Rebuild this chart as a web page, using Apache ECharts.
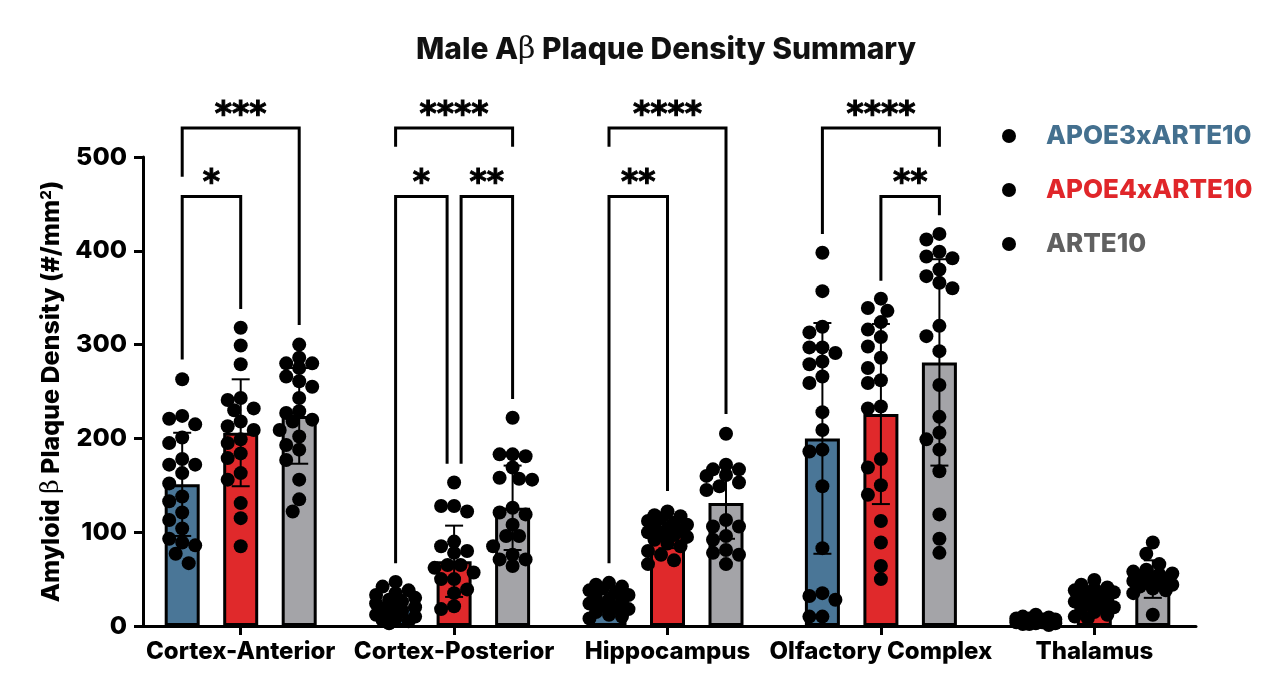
<!DOCTYPE html>
<html><head><meta charset="utf-8">
<script src="https://cdn.jsdelivr.net/npm/echarts@6/dist/echarts.min.js"></script>
<style>html,body{margin:0;padding:0;background:#fff}#c{width:1280px;height:696px}</style>
</head><body><div id="c"></div>
<script>
// ---------------- data ----------------
const categories = ['Cortex-Anterior', 'Cortex-Posterior', 'Hippocampus', 'Olfactory Complex', 'Thalamus'];
const groupNames = ['APOE3xARTE10', 'APOE4xARTE10', 'ARTE10'];
const meanAPOE3 = [151, 21, 26, 200, 5];
const meanAPOE4 = [206, 69, 99, 226, 30];
const meanARTE10 = [224, 126, 131, 281, 50];
const sdAPOE3 = [55, 12, 10, 123, 3];
const sdAPOE4 = [57, 38, 16, 96, 11];
const sdARTE10 = [51, 45, 38, 110, 20];
const dotsAPOE3 = [
  [263, 224, 221, 215, 201, 195, 178, 172, 172, 163, 152, 138, 133, 121, 113, 104, 93, 89, 86, 77, 67],
  [47, 42, 38, 35, 33, 30, 28, 26, 24, 22, 20, 18, 16, 14, 12, 10, 8, 6, 5, 3],
  [46, 44, 42, 40, 38, 36, 33, 30, 28, 26, 24, 22, 20, 18, 15, 12, 10, 8],
  [398, 357, 319, 313, 297, 291, 297, 279, 282, 266, 259, 228, 209, 188, 186, 149, 83, 32, 35, 28, 10, 10],
  [12, 10, 9, 8, 8, 7, 7, 6, 6, 5, 5, 4, 4, 3, 3, 2, 2, 1]
];
const dotsAPOE4 = [
  [318, 299, 279, 243, 241, 232, 230, 218, 213, 209, 199, 195, 184, 179, 163, 156, 131, 115, 85],
  [153, 128, 128, 122, 90, 85, 80, 78, 65, 65, 62, 57, 50, 50, 39, 35, 21, 18],
  [122, 118, 117, 115, 112, 110, 108, 106, 104, 102, 100, 98, 97, 95, 92, 88, 85, 80, 76, 70, 66],
  [349, 339, 336, 324, 316, 308, 298, 286, 275, 262, 259, 232, 234, 178, 169, 150, 140, 112, 89, 64, 50],
  [49, 44, 41, 40, 38, 36, 35, 33, 31, 30, 28, 26, 25, 22, 20, 18, 15, 12, 10, 8]
];
const dotsARTE10 = [
  [300, 286, 280, 280, 275, 266, 261, 255, 243, 229, 227, 220, 218, 209, 202, 193, 188, 177, 156, 135, 122],
  [222, 183, 183, 181, 169, 156, 158, 157, 126, 121, 119, 108, 96, 96, 85, 76, 71, 71, 64],
  [205, 172, 167, 167, 160, 161, 153, 149, 145, 113, 106, 106, 96, 92, 81, 78, 76, 66],
  [418, 412, 399, 394, 392, 380, 373, 366, 360, 320, 309, 293, 257, 223, 206, 199, 188, 165, 119, 93, 78],
  [89, 77, 66, 60, 58, 56, 55, 53, 52, 50, 48, 46, 45, 44, 42, 40, 38, 35, 12]
];
const yMin = 0, yMax = 500, yStep = 100;
// significance brackets: category, groups compared, bracket level and leg ends (data units)
const brackets = [
  { cat: 0, from: 0, to: 2, level: 531, endFrom: 479, endTo: 321, label: '***' },
  { cat: 0, from: 0, to: 1, level: 458, endFrom: 284, endTo: 338, label: '*' },
  { cat: 1, from: 0, to: 2, level: 531, endFrom: 511, endTo: 511, label: '****' },
  { cat: 1, from: 0, to: 1, level: 458, endFrom: 67, endTo: 173, label: '*', nudgeTo: -7 },
  { cat: 1, from: 1, to: 2, level: 458, endFrom: 173, endTo: 242, label: '**', nudgeFrom: 7 },
  { cat: 2, from: 0, to: 2, level: 531, endFrom: 511, endTo: 226, label: '****' },
  { cat: 2, from: 0, to: 1, level: 458, endFrom: 67, endTo: 144, label: '**' },
  { cat: 3, from: 0, to: 2, level: 531, endFrom: 418, endTo: 511, label: '****' },
  { cat: 3, from: 1, to: 2, level: 458, endFrom: 368, endTo: 438, label: '**' }
];

// ---------------- layout / style ----------------
const FONT = 'Inter, "Noto Sans", sans-serif';
const colors = ['#4a7697', '#e0292b', '#a4a4a8'];
const textColors = ['#44708f', '#e0262a', '#606060'];
const G0 = { left: 134, right: 79, top: 157, bottom: 70 };
const G1 = { left: 143, right: 84, top: 157, bottom: 70 };
const W = 1280, H = 696;
const catPx = (W - G0.left - G0.right) / categories.length;
const yPxPerUnit = (H - G0.top - G0.bottom) / (yMax - yMin);
const barW = 35, groupStepPx = 58.5;
const groupOff = [-groupStepPx / catPx, 0, groupStepPx / catPx];

const means = [meanAPOE3, meanAPOE4, meanARTE10];
const sds = [sdAPOE3, sdAPOE4, sdARTE10];
const dots = [dotsAPOE3, dotsAPOE4, dotsARTE10];

// simple beeswarm layout (pixel space) for the dot scatter
function swarm(vals) {
  const dia = 13, cands = [0, -6.5, 6.5, -13, 13, -19.5, 19.5];
  const placed = [];
  const order = vals.map((v, i) => i).sort((a, b) => vals[b] - vals[a]);
  const offs = new Array(vals.length).fill(0);
  order.forEach(i => {
    const y = vals[i] * yPxPerUnit;
    let best = 0, bestD = -1;
    for (const c of cands) {
      let md = Infinity;
      for (const p of placed) md = Math.min(md, Math.hypot(p[0] - c, p[1] - y));
      if (md >= dia - 0.5) { best = c; bestD = Infinity; break; }
      if (md > bestD) { bestD = md; best = c; }
    }
    placed.push([best, y]);
    offs[i] = best;
  });
  return offs;
}

const series = [];
groupNames.forEach((name, g) => {
  series.push({
    name, type: 'bar', xAxisIndex: 0, yAxisIndex: 0,
    data: means[g], barWidth: barW, barGap: ((groupStepPx - barW) / barW * 100) + '%',
    itemStyle: { color: colors[g], borderColor: '#000', borderWidth: 3 },
    z: 2, silent: true
  });
});
groupNames.forEach((name, g) => {
  const eb = means[g].map((m, c) => [c + groupOff[g], m, sds[g][c]]);
  series.push({
    type: 'custom', xAxisIndex: 1, yAxisIndex: 0, z: 3, silent: true, clip: false,
    data: eb,
    renderItem: (params, api) => {
      const x = api.value(0), m = api.value(1), s = api.value(2);
      const top = api.coord([x, m + s]);
      const bot = api.coord([x, Math.max(0, m - s)]);
      const cap = 9;
      const st = { stroke: '#000', lineWidth: 2 };
      return { type: 'group', children: [
        { type: 'line', shape: { x1: top[0], y1: top[1], x2: bot[0], y2: bot[1] }, style: st },
        { type: 'line', shape: { x1: top[0] - cap, y1: top[1], x2: top[0] + cap, y2: top[1] }, style: st },
        { type: 'line', shape: { x1: bot[0] - cap, y1: bot[1], x2: bot[0] + cap, y2: bot[1] }, style: st }
      ]};
    }
  });
});
groupNames.forEach((name, g) => {
  const pts = [];
  dots[g].forEach((vals, c) => {
    const offs = swarm(vals);
    vals.forEach((v, i) => pts.push([c + groupOff[g] + offs[i] / catPx, v]));
  });
  series.push({
    type: 'scatter', xAxisIndex: 1, yAxisIndex: 0, z: 4, silent: true,
    symbolSize: 14, itemStyle: { color: '#000', opacity: 1 }, data: pts
  });
});
series.push({
  type: 'custom', xAxisIndex: 1, yAxisIndex: 0, z: 5, silent: true, clip: false,
  data: brackets.map(b => [b.cat, b.level]),
  renderItem: (params, api) => {
    const b = brackets[params.dataIndex];
    const xf = api.coord([b.cat + groupOff[b.from], b.level])[0] + (b.nudgeFrom || 0);
    const xt = api.coord([b.cat + groupOff[b.to], b.level])[0] + (b.nudgeTo || 0);
    const yl = api.coord([0, b.level])[1];
    const yf = api.coord([0, b.endFrom])[1];
    const yt = api.coord([0, b.endTo])[1];
    return { type: 'group', children: [
      { type: 'polyline', shape: { points: [[xf, yf], [xf, yl], [xt, yl], [xt, yt]] },
        style: { stroke: '#000', lineWidth: 3, fill: null } },
      { type: 'text', style: { text: b.label, x: (xf + xt) / 2, y: yl + 5, align: 'center', verticalAlign: 'bottom',
        font: 'bold 33px "DejaVu Sans"', fill: '#000', stroke: '#000', lineWidth: 1 } }
    ]};
  }
});

const chart = echarts.init(document.getElementById('c'));
chart.setOption({
  backgroundColor: '#fff',
  animation: false,
  title: {
    text: 'Male A{b|β} Plaque Density Summary', left: 411, top: 30,
    textStyle: { fontFamily: FONT, fontWeight: 800, fontSize: 30, color: '#111',
      rich: { b: { fontFamily: '"DejaVu Serif", serif', fontWeight: 400, fontSize: 30, color: '#111' } } }
  },
  legend: {
    orient: 'vertical', left: 997, top: 118, itemWidth: 64, itemHeight: 14, itemGap: 28,
    icon: 'circle', selectedMode: false,
    textStyle: { fontFamily: FONT, fontWeight: 800, fontSize: 26 },
    data: groupNames.map((n, g) => ({ name: n, itemStyle: { color: '#000', borderWidth: 0 }, textStyle: { color: textColors[g] } }))
  },
  grid: [
    { left: G0.left, right: G0.right, top: G0.top, bottom: G0.bottom },
    { left: G1.left, right: G1.right, top: G1.top, bottom: G1.bottom }
  ],
  xAxis: [
    { type: 'category', gridIndex: 0, data: categories,
      axisLine: { show: false },
      axisTick: { show: true, alignWithLabel: true, length: 9, lineStyle: { color: '#000', width: 3 } },
      axisLabel: { color: '#000', fontFamily: FONT, fontWeight: 800, fontSize: 24, margin: 14, interval: 0 } },
    { type: 'value', gridIndex: 0, min: -0.5, max: 4.5, show: false },
    { type: 'value', gridIndex: 1, min: 0, max: 1,
      axisLine: { show: true, onZero: false, lineStyle: { color: '#000', width: 3 } },
      axisTick: { show: false }, axisLabel: { show: false }, splitLine: { show: false } }
  ],
  yAxis: [
    { type: 'value', gridIndex: 0, min: yMin, max: yMax, show: false },
    { type: 'value', gridIndex: 1, min: yMin, max: yMax, interval: yStep,
      name: 'Amyloid {b|β} Plaque Density (#/mm{s|2})', nameLocation: 'middle', nameGap: 77,
      nameTextStyle: { color: '#000', fontFamily: FONT, fontWeight: 800, fontSize: 25,
        rich: { b: { fontFamily: '"DejaVu Serif", serif', fontWeight: 400, fontSize: 25, color: '#000' },
                s: { fontFamily: FONT, fontWeight: 800, fontSize: 15, verticalAlign: 'top', color: '#000' } } },
      axisLine: { show: true, lineStyle: { color: '#000', width: 3 } },
      axisTick: { show: true, length: 9, lineStyle: { color: '#000', width: 3 } },
      axisLabel: { color: '#000', fontFamily: FONT, fontWeight: 800, fontSize: 25, margin: 16 },
      splitLine: { show: false } }
  ],
  series
});
</script></body></html>
